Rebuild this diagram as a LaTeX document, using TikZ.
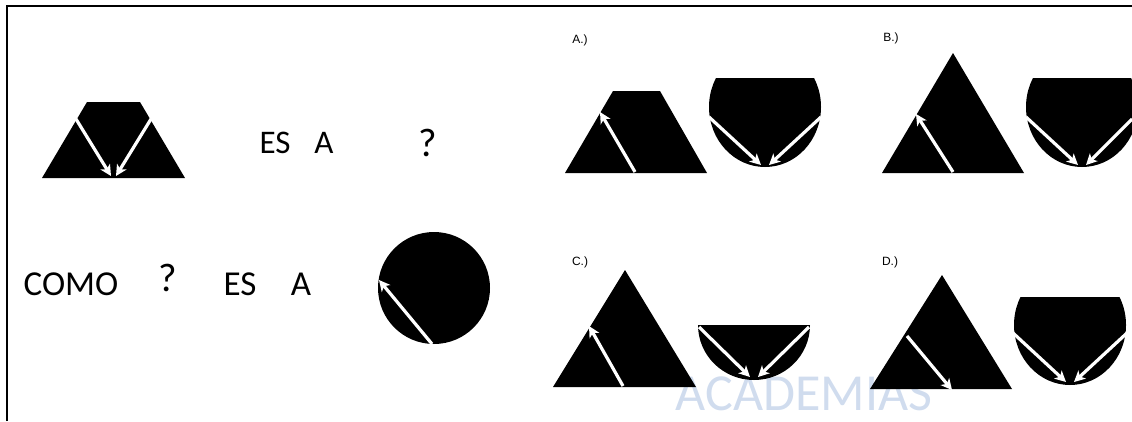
\documentclass[tikz,border=0pt]{standalone}
\usepackage{fontspec}
\setmainfont{Carlito}
\newfontfamily\labfont{Liberation Sans}
\usetikzlibrary{arrows.meta}
\definecolor{wmblue}{RGB}{208,220,238}
\begin{document}
\begin{tikzpicture}[x=1pt,y=-1pt,
  shapefill/.style={fill=black},
  warrow/.style={draw=white, line width=3.2pt, -{Stealth[length=11pt,width=11pt,inset=3pt]}},
  bigtxt/.style={font=\fontsize{33}{36}\selectfont, inner sep=0pt},
  rowtwo/.style={font=\fontsize{35}{38}\selectfont, inner sep=0pt},
  qmark/.style={font=\fontsize{40}{44}\selectfont, inner sep=0pt},
  optlab/.style={font=\labfont\fontsize{12}{13}\selectfont, inner sep=0pt},
  wmark/.style={font=\fontsize{52}{56}\selectfont, text=wmblue, inner sep=0pt},
  framel/.style={line width=2pt}]
\useasboundingbox (0,0) rectangle (1132,421);
% watermark
\node[wmark] (wm) at (804,394) {ACADEMIAS};
% frame
\draw[framel] (7,421) -- (7,6) -- (1132,6);
% texts
\node[bigtxt] (es1) at (275,143) {ES};
\node[bigtxt] (a1) at (324,143) {A};
\node[qmark] (q1) at (428,143) {?};
\node[rowtwo] (como) at (71,284) {COMO};
\node[qmark] (q2) at (168,278) {?};
\node[rowtwo] (es2) at (240,284) {ES};
\node[rowtwo] (a2) at (301,284) {A};
\node[optlab] (la) at (580,40) {A.)};
\node[optlab] (lb) at (891,38) {B.)};
\node[optlab] (lc) at (580,262) {C.)};
\node[optlab] (ld) at (890,262) {D.)};
% main trapezoid
\fill[shapefill] (42,178) -- (87,102) -- (140,102) -- (185,178) -- cycle;
\coordinate (t1s) at (76,119); \coordinate (t1e) at (111,176);
\coordinate (t2s) at (151,119); \coordinate (t2e) at (116,176);
\draw[warrow] (t1s) -- (t1e);
\draw[warrow] (t2s) -- (t2e);
% circle
\fill[shapefill] (434,288) circle (56);
\coordinate (c1s) at (432,344); \coordinate (c1e) at (379,280);
\draw[warrow] (c1s) -- (c1e);
% option A
\fill[shapefill] (565,173) -- (613,91) -- (660,91) -- (707,173) -- cycle;
\coordinate (as) at (635,172); \coordinate (ae) at (600,112);
\draw[warrow] (as) -- (ae);
\begin{scope}
\clip (700,78) rectangle (830,180);
\fill[shapefill] (765,107) ellipse [x radius=56, y radius=60];
\end{scope}
\coordinate (ab1s) at (709,117); \coordinate (ab1e) at (761,165);
\coordinate (ab2s) at (821,117); \coordinate (ab2e) at (769,165);
\draw[warrow] (ab1s) -- (ab1e);
\draw[warrow] (ab2s) -- (ab2e);
% option B
\fill[shapefill] (882,173) -- (953,53) -- (1024,173) -- cycle;
\coordinate (bs) at (953,172); \coordinate (be) at (916,114);
\draw[warrow] (bs) -- (be);
\begin{scope}
\clip (1015,78) rectangle (1132,180);
\fill[shapefill] (1082,107) ellipse [x radius=56, y radius=60];
\end{scope}
\coordinate (bb1s) at (1026,117); \coordinate (bb1e) at (1078,165);
\coordinate (bb2s) at (1132,119); \coordinate (bb2e) at (1086,165);
\draw[warrow] (bb1s) -- (bb1e);
\draw[warrow] (bb2s) -- (bb2e);
% option C
\fill[shapefill] (553,387) -- (625,270) -- (696,387) -- cycle;
\coordinate (cs) at (623,386); \coordinate (ce) at (589,326);
\draw[warrow] (cs) -- (ce);
\begin{scope}
\clip (690,325) rectangle (820,390);
\fill[shapefill] (754,325) ellipse [x radius=56, y radius=55];
\end{scope}
\coordinate (cb1s) at (699,327); \coordinate (cb1e) at (750,377);
\coordinate (cb2s) at (809,327); \coordinate (cb2e) at (758,377);
\draw[warrow] (cb1s) -- (cb1e);
\draw[warrow] (cb2s) -- (cb2e);
% option D
\fill[shapefill] (870,389) -- (942,275) -- (1012,389) -- cycle;
\coordinate (ds) at (907,336); \coordinate (de) at (952,390);
\draw[warrow] (ds) -- (de);
\begin{scope}
\clip (1005,297) rectangle (1135,395);
\fill[shapefill] (1070,325) ellipse [x radius=56, y radius=60];
\end{scope}
\coordinate (db1s) at (1013,333); \coordinate (db1e) at (1066,382);
\coordinate (db2s) at (1127,333); \coordinate (db2e) at (1074,382);
\draw[warrow] (db1s) -- (db1e);
\draw[warrow] (db2s) -- (db2e);
\end{tikzpicture}
\end{document}
